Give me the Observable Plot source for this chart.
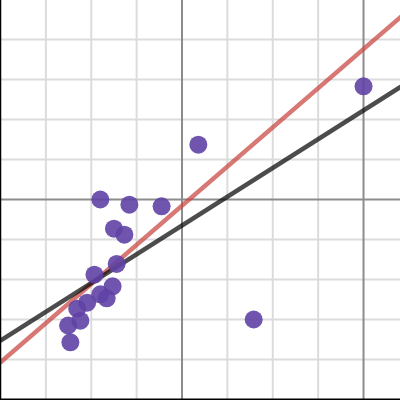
<!DOCTYPE html>
<html>
<head>
<meta charset="utf-8">
<script src="https://cdn.jsdelivr.net/npm/d3@7"></script>
<script src="https://cdn.jsdelivr.net/npm/@observablehq/plot@0.6"></script>
<style>
  html, body { margin: 0; padding: 0; background: #fff; }
  #chart svg { display: block; }
</style>
</head>
<body>
<div id="chart"></div>
<script>
// Data points
const xs = [4.0, 0.36, -1.80, -1.16, -0.45, -1.50, -1.27, -1.44, -1.93, -1.53, -1.80, -1.66, -2.09, -2.31, -2.24, -2.51, -2.46, 1.58];
const ys = [2.83, 1.37, 0.0, -0.13, -0.17, -0.73, -0.88, -1.61, -1.88, -2.17, -2.37, -2.47, -2.58, -2.73, -3.03, -3.15, -3.57, -3.0];

// Fitted lines: slope / intercept
const redSlope = 0.979, redIntercept = -0.154;
const blackSlope = 0.719, blackIntercept = -0.65;

// Viewport and grid
const xDomain = [-4.0, 4.815];
const yDomain = [-5.025, 4.975];
const xMinor = [-3, -2, -1, 1, 2, 3];
const xMajor = [0, 4];
const yMinor = [-4, -3, -2, -1, 1, 2, 3, 4];
const yMajor = [0];

const points = xs.map((x, i) => ({x, y: ys[i]}));
const lineOf = (m, b) => xDomain.map(x => ({x, y: m * x + b}));
const redLine = lineOf(redSlope, redIntercept);
const blackLine = lineOf(blackSlope, blackIntercept);

const chart = Plot.plot({
  width: 400,
  height: 400,
  margin: 0,
  style: {background: "#fff"},
  x: {domain: xDomain, axis: null},
  y: {domain: yDomain, axis: null},
  marks: [
    Plot.ruleX(xMinor, {stroke: "#dcdcdc", strokeWidth: 2}),
    Plot.ruleY(yMinor, {stroke: "#dcdcdc", strokeWidth: 2}),
    Plot.ruleX(xMajor, {stroke: "#8c8c8c", strokeWidth: 2}),
    Plot.ruleY(yMajor, {stroke: "#8c8c8c", strokeWidth: 2}),
    Plot.line(redLine, {x: "x", y: "y", stroke: "#c74440", strokeOpacity: 0.72, strokeWidth: 4.5}),
    Plot.line(blackLine, {x: "x", y: "y", stroke: "#000", strokeOpacity: 0.7, strokeWidth: 4.5}),
    Plot.dot(points, {x: "x", y: "y", r: 9, fill: "#6042a6", fillOpacity: 0.9, stroke: "none"}),
    Plot.frame({anchor: "left", stroke: "#000", strokeWidth: 1.5}),
    Plot.frame({anchor: "bottom", stroke: "#000", strokeWidth: 4})
  ]
});
document.getElementById("chart").appendChild(chart);
</script>
</body>
</html>
